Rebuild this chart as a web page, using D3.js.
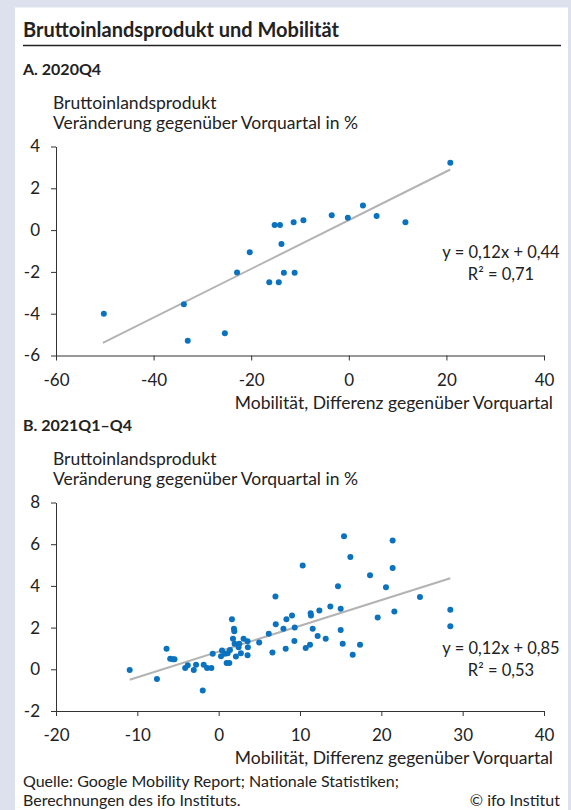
<html>
<head>
<script src="https://d3js.org/d3.v7.min.js"></script>
<style>
  body { margin: 0; background: #dde1ed; }
  svg text { font-family: 'Lato', sans-serif; fill: #222; }
</style>
</head>
<body>
<svg id="svg" width="571" height="810"></svg>
<script>
var svg = d3.select("svg");
var W = 571, H = 810;

// Panel A: 2020Q4 (mobility, gdp)
var mobA = [-50.2, -33.8, -33.0, -25.4, -22.9, -20.3, -16.3, -15.2, -14.1, -14.35, -13.8,
            -13.3, -11.1, -11.3, -9.3, -3.5, -0.2, 2.9, 5.7, 11.6, 20.8];
var gdpA = [-4.0, -3.55, -5.3, -4.93, -2.03, -1.06, -2.5, 0.25, 0.25, -2.5, -0.66,
            -2.04, -2.04, 0.38, 0.47, 0.71, 0.59, 1.18, 0.67, 0.38, 3.22];
var trendA = [[-50.4, -5.4], [20.8, 2.9]];
var xTicksA = [-60, -40, -20, 0, 20, 40];
var yTicksA = [-6, -4, -2, 0, 2, 4];

// Panel B: 2021Q1-Q4
var mobB = [-10.94, -7.59, -6.41, -5.96, -5.63, -5.43, -4.12, -3.8, -3.06, -2.78, -1.96, -1.84,
            -1.43, -0.9, -0.73, 0.29, 0.41, 0.78, 0.98, 1.31, 1.1, 1.39, 1.63, 1.88, 1.92, 1.76,
            1.96, 2.12, 2.45, 2.53, 2.73, 3.06, 3.55, 3.59, 3.55, 4.98, 6.16, 6.61, 6.98, 7.02,
            7.96, 8.24, 8.33, 9.02, 9.31, 9.35,
            10.33, 10.7, 11.23, 11.31, 11.35, 11.56, 12.17, 12.38, 13.16, 13.73, 14.67, 15.0,
            15.0, 15.41, 15.25, 16.19, 16.48, 17.38, 18.61, 19.55, 20.57, 21.39, 21.39, 21.6,
            24.75, 28.48, 28.48];
var gdpB = [-0.03, -0.46, 0.99, 0.51, 0.48, 0.48, 0.06, 0.19, -0.03, 0.22, -1.02, 0.22,
            0.06, 0.06, 0.75, 0.62, 0.9, 0.74, 0.3, 0.3, 0.77, 0.93, 2.4, 1.95, 1.82, 1.46,
            1.22, 0.61, 1.06, 1.22, 0.77, 1.46, 1.34, 1.06, 0.67, 1.28, 1.7, 0.8, 3.49, 2.16,
            1.95, 0.99, 2.4, 2.58, 1.36, 2.0,
            4.98, 1.02, 1.18, 2.69, 2.58, 1.94, 1.6, 2.82, 1.47, 3.01, 3.98, 2.91,
            1.89, 6.38, 1.22, 5.39, 0.7, 1.18, 4.51, 2.48, 3.94, 6.18, 4.86, 2.77,
            3.47, 2.86, 2.06];
var trendB = [[-10.94, -0.5], [28.48, 4.37]];
var xTicksB = [-20, -10, 0, 10, 20, 30, 40];
var yTicksB = [-2, 0, 2, 4, 6, 8];

var yLabel = ["Bruttoinlandsprodukt", "Veränderung gegenüber Vorquartal in %"];
var xLabel = "Mobilität, Differenz gegenüber Vorquartal";

// card
svg.append("rect").attr("width", W).attr("height", H).attr("fill", "#dde1ed");
svg.append("rect").attr("x", 15).attr("y", 7.5).attr("width", 553).attr("height", H)
   .attr("fill", "#fff");

svg.append("text").attr("x", 23).attr("y", 37)
   .style("font-size", "20px").style("font-weight", "bold")
   .text("Bruttoinlandsprodukt und Mobilität");
svg.append("line").attr("x1", 23).attr("x2", 561).attr("y1", 45.5).attr("y2", 45.5)
   .attr("stroke", "#222").attr("stroke-width", 1.5);

function drawPanel(o) {
    var x = d3.scaleLinear().domain(d3.extent(o.xTicks)).range([56, 544]);
    var y = d3.scaleLinear().domain(d3.extent(o.yTicks)).range([o.bottom, o.top]);

    svg.append("text").attr("x", 23).attr("y", o.headY)
       .style("font-size", "16px").style("font-weight", "bold").text(o.head);

    svg.selectAll(null).data(yLabel).enter().append("text")
       .attr("x", 53).attr("y", function(d, i) { return o.headY + 34 + i * 20; })
       .style("font-size", "17.5px").text(function(d) { return d; });

    var fmt = function(d) { return String(d); };
    var gy = svg.append("g").attr("transform", "translate(56,0)")
       .call(d3.axisLeft(y).tickValues(o.yTicks).tickFormat(fmt)
             .tickSize(5).tickSizeOuter(0).tickPadding(11));
    var gx = svg.append("g").attr("transform", "translate(0," + o.bottom + ")")
       .call(d3.axisBottom(x).tickValues(o.xTicks).tickFormat(fmt)
             .tickSize(5).tickSizeOuter(0));
    [gx, gy].forEach(function(g) {
        g.selectAll("path, line").attr("stroke", "#333");
        g.selectAll("text").style("font-family", "Lato, sans-serif")
         .style("font-size", "17px").attr("fill", "#222");
    });
    gx.selectAll("text").attr("dy", null).attr("y", 30);

    svg.append("text").attr("x", 553).attr("y", o.bottom + 53)
       .attr("text-anchor", "end").style("font-size", "17.5px").text(xLabel);

    svg.append("line")
       .attr("x1", x(o.trend[0][0])).attr("y1", y(o.trend[0][1]))
       .attr("x2", x(o.trend[1][0])).attr("y2", y(o.trend[1][1]))
       .attr("stroke", "#b3b3b3").attr("stroke-width", 2);

    svg.append("g").selectAll("circle").data(o.xs).enter().append("circle")
       .attr("cx", function(d) { return x(d); })
       .attr("cy", function(d, i) { return y(o.ys[i]); })
       .attr("r", 3).attr("fill", "#0a72bf");

    svg.selectAll(null).data(o.eq).enter().append("text")
       .attr("x", 501).attr("y", function(d, i) { return o.eqY + i * 22; })
       .attr("text-anchor", "middle").style("font-size", "16.5px")
       .text(function(d) { return d; });
}

drawPanel({ head: "A. 2020Q4", headY: 75, top: 146.5, bottom: 355.5,
            xTicks: xTicksA, yTicks: yTicksA, xs: mobA, ys: gdpA, trend: trendA,
            eq: ["y = 0,12x + 0,44", "R² = 0,71"], eqY: 258 });
drawPanel({ head: "B. 2021Q1–Q4", headY: 431, top: 502.5, bottom: 711,
            xTicks: xTicksB, yTicks: yTicksB, xs: mobB, ys: gdpB, trend: trendB,
            eq: ["y = 0,12x + 0,85", "R² = 0,53"], eqY: 653.5 });

svg.append("text").attr("x", 23).attr("y", 787).style("font-size", "16px")
   .text("Quelle: Google Mobility Report; Nationale Statistiken;");
svg.append("text").attr("x", 23).attr("y", 806).style("font-size", "16px")
   .text("Berechnungen des ifo Instituts.");
svg.append("text").attr("x", 560).attr("y", 806).attr("text-anchor", "end")
   .style("font-size", "16px").text("© ifo Institut");
</script>
</body>
</html>
